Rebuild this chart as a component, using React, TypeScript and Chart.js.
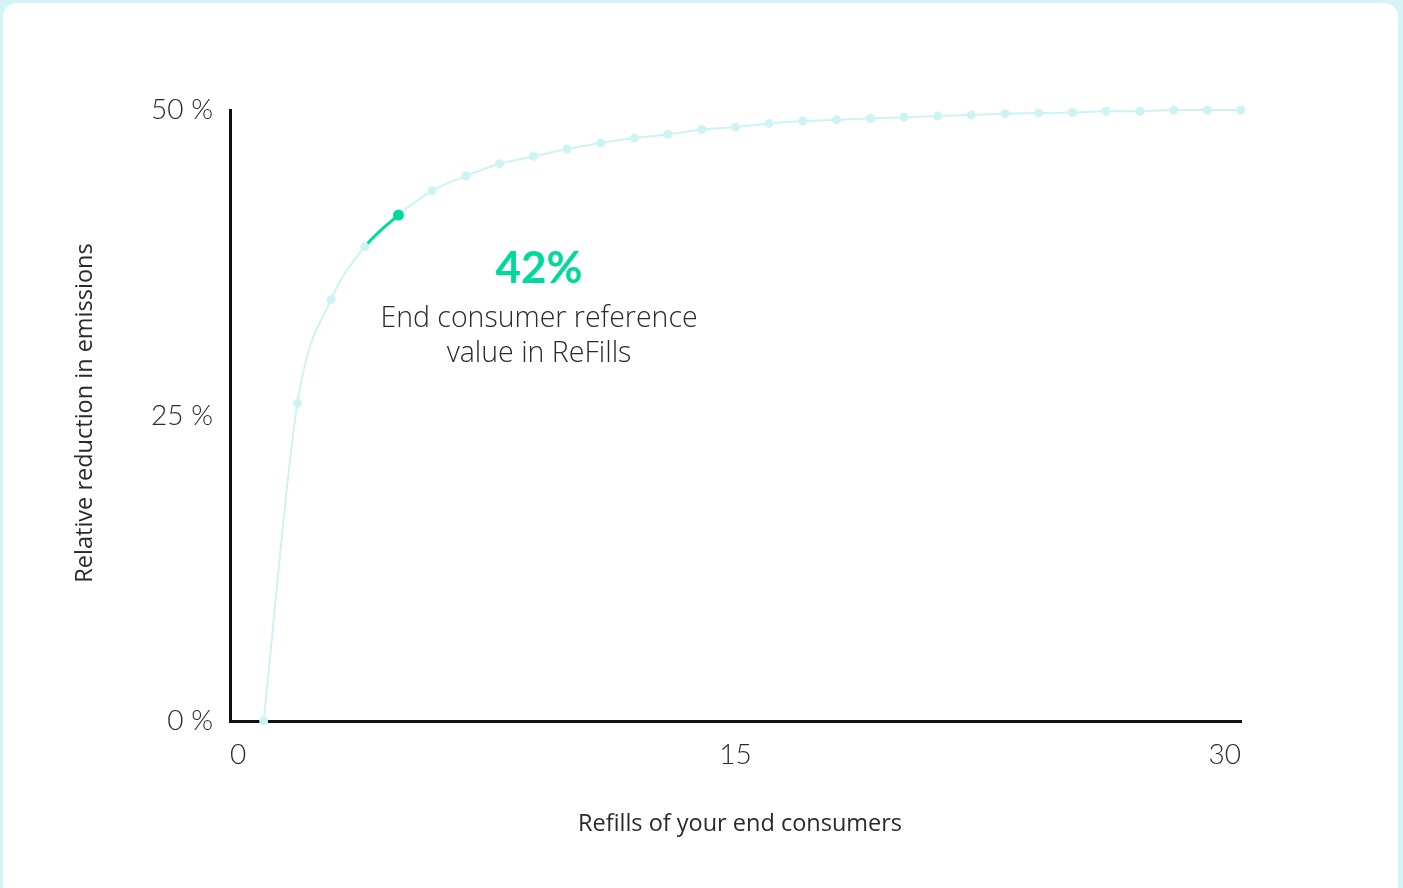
import { useEffect, useRef } from "react";
import { Chart, registerables } from "chart.js";

Chart.register(...registerables);

const refills = [1, 2, 3, 4, 5, 6, 7, 8, 9, 10, 11, 12, 13, 14, 15, 16, 17, 18, 19, 20, 21, 22, 23, 24, 25, 26, 27, 28, 29, 30];
const reduction = [0, 26.0, 34.5, 38.8, 41.4, 43.4, 44.6, 45.6, 46.2, 46.8, 47.3, 47.7, 48.0, 48.4, 48.6, 48.9, 49.1, 49.2, 49.3, 49.4, 49.5, 49.6, 49.7, 49.75, 49.8, 49.9, 49.9, 50, 50, 50];
const xTicks = [0, 15, 30];
const yTicks = [0, 25, 50];
const highlightIndex = 4;
const highlightLabel = "42%";
const annotationLines = ["End consumer reference", "value in ReFills"];
const xTitle = "Refills of your end consumers";
const yTitle = "Relative reduction in emissions";

const CYAN = "#cdf3f5";
const GREEN = "#00d99b";
const TEXT = "#2a2a2a";
const TICK_FONT = "Lato";
const TITLE_FONT = "'Open Sans'";

const textPlugin = {
  id: "texts",
  afterDraw(chart: any) {
    const { ctx, chartArea } = chart;
    const left = chartArea.left;
    const top = chartArea.top;
    ctx.save();
    ctx.fillStyle = TEXT;
    ctx.textAlign = "center";
    ctx.textBaseline = "middle";
    // axis titles
    ctx.font = `400 23.5px ${TITLE_FONT}`;
    ctx.fillText(xTitle, left + 510, top + 714);
    ctx.save();
    ctx.translate(left - 145, top + 303);
    ctx.rotate(-Math.PI / 2);
    ctx.fillText(yTitle, 0, 0);
    ctx.restore();
    // annotation
    ctx.fillStyle = GREEN;
    ctx.font = `700 44px ${TICK_FONT}`;
    ctx.fillText(highlightLabel, left + 309, top + 159);
    ctx.fillStyle = TEXT;
    ctx.font = `300 28.5px ${TITLE_FONT}`;
    annotationLines.forEach((line, i) => {
      ctx.fillText(line, left + 309, top + 209 + i * 35);
    });
    ctx.restore();
  },
};

export default function App() {
  const canvasRef = useRef<HTMLCanvasElement | null>(null);

  useEffect(() => {
    if (!canvasRef.current) return;
    const data = refills.map((x, i) => ({ x, y: reduction[i] }));
    const chart = new Chart(canvasRef.current, {
      type: "line",
      data: {
        datasets: [
          {
            data,
            borderColor: CYAN,
            borderWidth: 2,
            cubicInterpolationMode: "monotone",
            pointRadius: refills.map((_, i) => (i === highlightIndex ? 5.5 : 4.5)),
            pointBackgroundColor: refills.map((_, i) => (i === highlightIndex ? GREEN : CYAN)),
            pointBorderWidth: 0,
            clip: false as any,
            segment: {
              borderColor: (c: any) => (c.p1DataIndex === highlightIndex ? GREEN : undefined),
              borderWidth: (c: any) => (c.p1DataIndex === highlightIndex ? 3 : undefined),
            },
          } as any,
        ],
      },
      options: {
        animation: false,
        responsive: true,
        maintainAspectRatio: false,
        layout: { padding: { left: 0, top: 110, right: 162, bottom: 0 } },
        plugins: { legend: { display: false }, tooltip: { enabled: false } },
        scales: {
          x: {
            type: "linear",
            min: 0,
            max: 30,
            afterBuildTicks: (scale: any) => {
              scale.ticks = xTicks.map((v) => ({ value: v }));
            },
            afterFit: (scale: any) => {
              scale.height = 167;
            },
            grid: { display: false, drawTicks: false },
            border: { display: true, color: "#111", width: 3 },
            ticks: {
              align: "inner",
              padding: 17,
              color: TEXT,
              font: { family: TICK_FONT, size: 28, weight: 300 as any },
              maxRotation: 0,
            },
          },
          y: {
            min: 0,
            max: 50,
            afterBuildTicks: (scale: any) => {
              scale.ticks = yTicks.map((v) => ({ value: v }));
            },
            afterFit: (scale: any) => {
              scale.width = 230;
            },
            grid: { display: false, drawTicks: false },
            border: { display: true, color: "#111", width: 3 },
            ticks: {
              padding: 17,
              color: TEXT,
              font: { family: TICK_FONT, size: 28, weight: 300 as any },
              callback: (v: any) => `${v} %`,
            },
          },
        },
      },
      plugins: [textPlugin],
    });
    return () => chart.destroy();
  }, []);

  return (
    <div style={{ position: "fixed", left: 0, top: 0, width: 1403, height: 888, background: "#d3f5f7", overflow: "hidden" }}>
      <div style={{ position: "absolute", left: 3, top: 3, width: 1395, height: 920, background: "#ffffff", borderRadius: 14 }} />
      <div style={{ position: "absolute", left: 0, top: 0, width: 1403, height: 888 }}>
        <canvas ref={canvasRef} />
      </div>
    </div>
  );
}
